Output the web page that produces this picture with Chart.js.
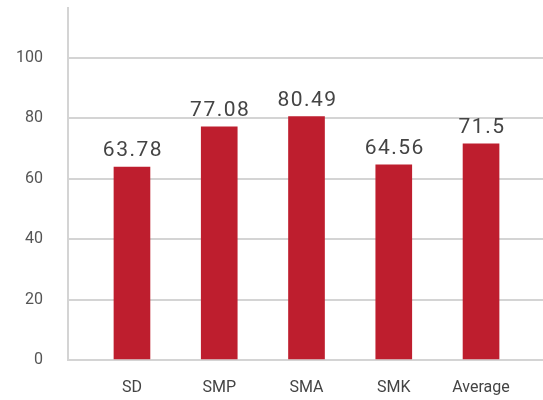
<!DOCTYPE html>
<html>
<head>
<meta charset="utf-8">
<script src="https://cdn.jsdelivr.net/npm/chart.js@4"></script>
<style>
  html, body { margin: 0; padding: 0; background: #fff; }
  canvas { display: block; }
</style>
</head>
<body>
<canvas id="chart" width="543" height="400"></canvas>
<script>
const categories = ['SD', 'SMP', 'SMA', 'SMK', 'Average'];
const scores = [63.78, 77.08, 80.49, 64.56, 71.5];
const yTicks = [0, 20, 40, 60, 80, 100];

const barColor = '#be1e2e';
const gridColor = '#d4d4d4';
const fontFamily = 'Roboto, "Noto Sans", sans-serif';

// draw the value above each bar
const valueLabels = {
  id: 'valueLabels',
  afterDatasetsDraw(chart) {
    const ctx = chart.ctx;
    const meta = chart.getDatasetMeta(0);
    ctx.save();
    ctx.font = '21px ' + fontFamily;
    ctx.letterSpacing = '1.5px';
    ctx.fillStyle = '#444';
    ctx.textAlign = 'center';
    ctx.textBaseline = 'alphabetic';
    meta.data.forEach((bar, i) => {
      ctx.fillText(String(scores[i]), bar.x + 1, bar.y - 11);
    });
    ctx.restore();
  }
};

new Chart(document.getElementById('chart'), {
  type: 'bar',
  data: {
    datasets: [{
      data: scores.map((v, i) => ({ x: i, y: v })),
      backgroundColor: barColor,
      barThickness: 36
    }]
  },
  options: {
    responsive: false,
    animation: false,
    layout: { padding: { top: 8 } },
    plugins: { legend: { display: false }, tooltip: { enabled: false } },
    scales: {
      x: {
        type: 'linear',
        offset: false,
        min: -0.733, max: 4.71,
        afterBuildTicks: s => { s.ticks = categories.map((c, i) => ({ value: i })); },
        afterFit: s => { s.height = 40; s.paddingLeft = 0; s.paddingRight = 0; },
        grid: { display: false, drawTicks: false },
        border: { display: false },
        ticks: {
          padding: 18,
          color: '#444',
          font: { family: fontFamily, size: 16 },
          callback: v => categories[v]
        }
      },
      y: {
        min: 0, max: 116.4,
        afterBuildTicks: s => { s.ticks = yTicks.map(v => ({ value: v })); },
        afterFit: s => { s.width = 68; s.paddingTop = 0; s.paddingBottom = 0; },
        grid: { color: gridColor, lineWidth: 2, drawTicks: false },
        border: { color: gridColor, width: 2 },
        ticks: {
          padding: 25,
          color: '#555',
          font: { family: fontFamily, size: 16 }
        }
      }
    }
  },
  plugins: [valueLabels]
});
</script>
</body>
</html>
